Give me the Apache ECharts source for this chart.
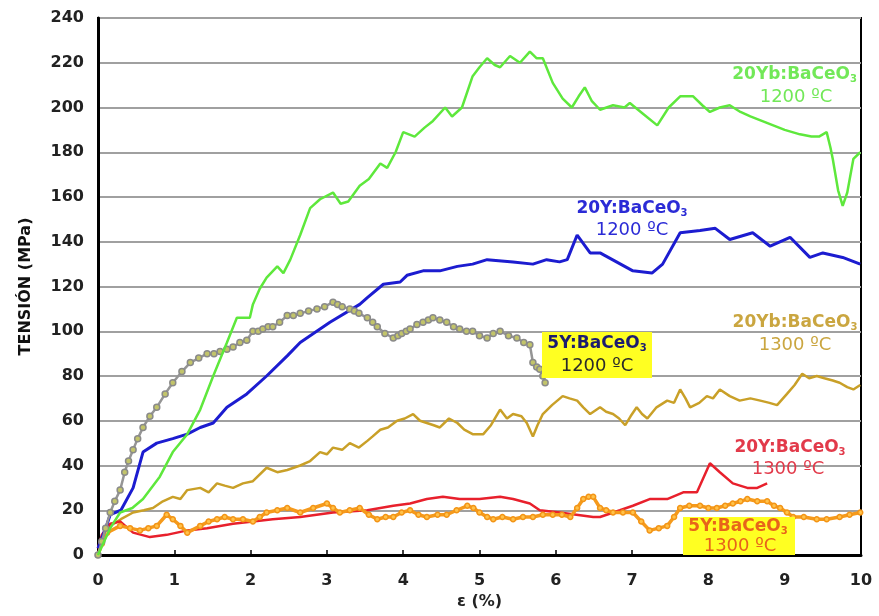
<!DOCTYPE html>
<html><head><meta charset="utf-8">
<script src="https://cdn.jsdelivr.net/npm/echarts@6/dist/echarts.min.js"></script>
<style>html,body{margin:0;padding:0;background:#fff}#c{width:879px;height:616px}</style>
</head><body><div id="c"></div>
<script>
// ε (%) ticks and TENSIÓN (MPa) ticks
const xTicks = [0,1,2,3,4,5,6,7,8,9,10];
const yTicks = [0,20,40,60,80,100,120,140,160,180,200,220,240];

// 20Yb:BaCeO3 1200 ºC
const g20Yb1200 = [[0,0],[0.08,6],[0.16,12],[0.29,19],[0.45,21],[0.59,25],[0.81,35],[0.98,46],[1.17,54],[1.34,65],[1.51,80],[1.69,95],[1.82,106],[1.99,106],[2.03,112],[2.12,119],[2.21,124],[2.35,129],[2.43,126],[2.52,132],[2.65,143],[2.78,155],[2.91,159],[3.08,162],[3.18,157],[3.28,158],[3.43,165],[3.55,168],[3.7,175],[3.79,173],[3.9,180],[4.0,189],[4.15,187],[4.28,191],[4.39,194],[4.55,200],[4.64,196],[4.77,200],[4.91,214],[5.0,218],[5.1,222],[5.2,219],[5.27,218],[5.4,223],[5.53,220],[5.66,225],[5.75,222],[5.83,222],[5.96,211],[6.09,204],[6.21,200],[6.3,205],[6.38,209],[6.47,203],[6.58,199],[6.75,201],[6.9,200],[6.97,202],[7.15,197],[7.33,192],[7.48,200],[7.63,205],[7.8,205],[7.92,201],[8.02,198],[8.15,200],[8.28,201],[8.42,198],[8.55,196],[8.7,194],[8.85,192],[9.0,190],[9.2,188],[9.35,187],[9.45,187],[9.55,189],[9.6,182],[9.63,177],[9.7,163],[9.76,156],[9.82,162],[9.9,177],[9.99,180]];
// 20Y:BaCeO3 1200 ºC
const b20Y1200 = [[0,3],[0.1,12],[0.16,18],[0.3,20],[0.46,30],[0.59,46],[0.77,50],[0.98,52],[1.17,54],[1.34,57],[1.51,59],[1.69,66],[1.95,72],[2.21,80],[2.48,89],[2.65,95],[3.04,104],[3.43,112],[3.53,115],[3.74,121],[3.96,122],[4.05,125],[4.26,127],[4.48,127],[4.71,129],[4.91,130],[5.1,132],[5.44,131],[5.7,130],[5.88,132],[6.05,131],[6.15,132],[6.28,143],[6.45,135],[6.58,135],[7.01,127],[7.26,126],[7.4,130],[7.63,144],[7.89,145],[8.09,146],[8.28,141],[8.58,144],[8.81,138],[9.07,142],[9.33,133],[9.5,135],[9.76,133],[9.99,130]];
// 5Y:BaCeO3 1200 ºC
const s5Y1200 = [[0,0],[0.05,6],[0.1,12],[0.16,19],[0.22,24],[0.29,29],[0.35,37],[0.4,42],[0.46,47],[0.52,52],[0.59,57],[0.68,62],[0.77,66],[0.88,72],[0.98,77],[1.1,82],[1.21,86],[1.32,88],[1.43,90],[1.52,90],[1.6,91],[1.69,92],[1.77,93],[1.86,95],[1.95,96],[2.03,100],[2.1,100],[2.16,101],[2.23,102],[2.29,102],[2.38,104],[2.48,107],[2.56,107],[2.65,108],[2.76,109],[2.87,110],[2.97,111],[3.08,113],[3.14,112],[3.2,111],[3.3,110],[3.36,109],[3.42,108],[3.53,106],[3.6,104],[3.66,102],[3.76,99],[3.87,97],[3.93,98],[3.98,99],[4.04,100],[4.09,101],[4.18,103],[4.26,104],[4.33,105],[4.39,106],[4.48,105],[4.57,104],[4.66,102],[4.74,101],[4.83,100],[4.91,100],[5.0,98],[5.1,97],[5.18,99],[5.27,100],[5.38,98],[5.49,97],[5.58,95],[5.66,94],[5.7,86],[5.75,84],[5.79,83],[5.83,80],[5.86,77]];
// 20Yb:BaCeO3 1300 ºC
const y20Yb1300 = [[0,0],[0.08,8],[0.16,13],[0.3,16],[0.46,19],[0.6,20],[0.72,21],[0.85,24],[0.98,26],[1.08,25],[1.17,29],[1.34,30],[1.45,28],[1.56,32],[1.66,31],[1.77,30],[1.9,32],[2.03,33],[2.21,39],[2.35,37],[2.48,38],[2.65,40],[2.78,42],[2.91,46],[3.0,45],[3.08,48],[3.2,47],[3.3,50],[3.42,48],[3.53,51],[3.6,53],[3.7,56],[3.8,57],[3.92,60],[4.02,61],[4.13,63],[4.22,60],[4.31,59],[4.4,58],[4.48,57],[4.6,61],[4.71,59],[4.8,56],[4.91,54],[5.05,54],[5.15,58],[5.27,65],[5.36,61],[5.44,63],[5.55,62],[5.62,59],[5.7,53],[5.76,58],[5.83,63],[5.95,67],[6.09,71],[6.18,70],[6.28,69],[6.36,66],[6.45,63],[6.58,66],[6.66,64],[6.75,63],[6.83,61],[6.91,58],[6.98,62],[7.06,66],[7.13,63],[7.2,61],[7.32,66],[7.46,69],[7.55,68],[7.63,74],[7.7,70],[7.76,66],[7.88,68],[7.98,71],[8.06,70],[8.15,74],[8.28,71],[8.41,69],[8.55,70],[8.68,69],[8.8,68],[8.9,67],[9.03,72],[9.13,76],[9.23,81],[9.32,79],[9.42,80],[9.52,79],[9.63,78],[9.72,77],[9.82,75],[9.9,74],[9.99,76]];
// 20Y:BaCeO3 1300 ºC
const r20Y1300 = [[0,3],[0.05,9],[0.16,14],[0.29,15],[0.46,10],[0.68,8],[0.9,9],[1.17,11],[1.43,12],[1.77,14],[2.03,15],[2.29,16],[2.65,17],[3.08,19],[3.53,20],[3.87,22],[4.09,23],[4.31,25],[4.52,26],[4.74,25],[5.0,25],[5.27,26],[5.44,25],[5.66,23],[5.79,20],[6.05,19],[6.49,17],[6.58,17],[6.84,20],[7.01,22],[7.23,25],[7.46,25],[7.67,28],[7.85,28],[8.02,41],[8.15,37],[8.32,32],[8.51,30],[8.64,30],[8.77,32]];
// 5Y:BaCeO3 1300 ºC
const o5Y1300 = [[0,0],[0.05,5],[0.12,10],[0.29,13],[0.42,12],[0.55,11],[0.66,12],[0.77,13],[0.9,18],[0.98,16],[1.08,13],[1.17,10],[1.34,13],[1.45,15],[1.56,16],[1.66,17],[1.77,16],[1.9,16],[2.03,15],[2.12,17],[2.21,19],[2.35,20],[2.48,21],[2.65,19],[2.82,21],[3.0,23],[3.08,21],[3.17,19],[3.3,20],[3.43,21],[3.55,18],[3.66,16],[3.77,17],[3.87,17],[3.98,19],[4.09,20],[4.2,18],[4.31,17],[4.45,18],[4.57,18],[4.7,20],[4.84,22],[4.92,21],[5.0,19],[5.1,17],[5.18,16],[5.3,17],[5.44,16],[5.57,17],[5.7,17],[5.83,18],[5.96,18],[6.08,18],[6.19,17],[6.28,21],[6.36,25],[6.43,26],[6.49,26],[6.58,21],[6.66,20],[6.75,19],[6.88,19],[7.01,19],[7.12,15],[7.23,11],[7.35,12],[7.46,13],[7.55,17],[7.63,21],[7.75,22],[7.89,22],[8.0,21],[8.11,21],[8.22,22],[8.32,23],[8.42,24],[8.51,25],[8.64,24],[8.77,24],[8.86,22],[8.94,21],[9.03,19],[9.11,17],[9.25,17],[9.42,16],[9.55,16],[9.72,17],[9.85,18],[9.99,19]];

const FONT = 'DejaVu Sans, sans-serif';
const chart = echarts.init(document.getElementById('c'), null, {renderer:'canvas'});

function lbl(x, y, name, temp, color, opts) {
  opts = opts || {};
  return [{
    type:'text', x: x, y: y,
    style:{ text:'{n|' + name + '}{s|3}', fill: color, align: opts.align || 'center', verticalAlign:'middle',
      rich:{ n:{fontSize:17, fontWeight:'bold', fontFamily:FONT, fill:color},
             s:{fontSize:10, fontWeight:'bold', fontFamily:FONT, fill:color, verticalAlign:'bottom', padding:[9,0,0,0]} } },
    z: 100
  },{
    type:'text', x: opts.tx, y: opts.ty,
    style:{ text: temp, fill: opts.tempColor || color, align:'center', verticalAlign:'middle', fontSize:18, fontFamily:FONT, fontWeight:'normal'},
    z: 100
  }];
}

const graphics = [].concat(
  [{type:'rect', shape:{x:542,y:332,width:110,height:46}, style:{fill:'#ffff22'}, z:90},
   {type:'rect', shape:{x:683,y:517,width:112,height:38}, style:{fill:'#ffff22'}, z:90}],
  lbl(857, 75, '20Yb:BaCeO', '1200 ºC', '#72e858', {align:'right', tx:796, ty:97}),
  lbl(632, 209, '20Y:BaCeO', '1200 ºC', '#2b2bd6', {tx:632, ty:230}),
  lbl(597, 344, '5Y:BaCeO', '1200 ºC', '#1c1c70', {tx:597, ty:366, tempColor:'#2a2a2a'}),
  lbl(795, 323, '20Yb:BaCeO', '1300 ºC', '#caa640', {tx:795, ty:345}),
  lbl(790, 448, '20Y:BaCeO', '1300 ºC', '#e23a4a', {tx:788, ty:469}),
  lbl(738, 527, '5Y:BaCeO', '1300 ºC', '#e8641a', {tx:740, ty:546})
);

chart.setOption({
  animation:false,
  backgroundColor:'#fff',
  grid:{left:98, right:18, top:18, bottom:61, show:true, borderColor:'#000', borderWidth:2, backgroundColor:'transparent'},
  xAxis:{type:'value', min:0, max:10, interval:1,
    name:'ε (%)', nameLocation:'middle', nameGap:38,
    nameTextStyle:{fontSize:16, fontWeight:'bold', fontFamily:FONT, color:'#222'},
    axisLine:{show:true, onZero:false, lineStyle:{color:'#000', width:3}},
    axisTick:{show:true, inside:true, length:5, lineStyle:{color:'#000', width:1.5}},
    axisLabel:{fontSize:16, fontWeight:'bold', fontFamily:FONT, color:'#222', margin:18,
      formatter: v => xTicks.includes(v) ? String(v) : ''},
    splitLine:{show:false}},
  yAxis:{type:'value', min:0, max:240, interval:20,
    name:'TENSIÓN (MPa)', nameLocation:'middle', nameGap:64, nameRotate:90,
    nameTextStyle:{fontSize:16, fontWeight:'bold', fontFamily:FONT, color:'#111'},
    axisLine:{show:true, lineStyle:{color:'#000', width:3}},
    axisTick:{show:false},
    axisLabel:{fontSize:16, fontWeight:'bold', fontFamily:FONT, color:'#222', margin:14,
      formatter: v => yTicks.includes(v) ? String(v) : ''},
    splitLine:{show:true, lineStyle:{color:'#a0a0a0', width:2}}},
  graphic: graphics,
  series:[
    {type:'line', name:'20Yb 1300', data:y20Yb1300, showSymbol:false, lineStyle:{color:'#c9a028', width:2.5}, z:2},
    {type:'line', name:'20Y 1300', data:r20Y1300, showSymbol:false, lineStyle:{color:'#e8202c', width:2.5}, z:3},
    {type:'line', name:'5Y 1300', data:o5Y1300, showSymbol:true, showAllSymbol:true, symbol:'circle', symbolSize:5,
      itemStyle:{color:'#ffc24a', borderColor:'#f39416', borderWidth:1.5}, lineStyle:{color:'#f59a1c', width:3.5}, z:4},
    {type:'line', name:'20Y 1200', data:b20Y1200, showSymbol:false, lineStyle:{color:'#1c1cd0', width:3}, z:5},
    {type:'line', name:'5Y 1200', data:s5Y1200, showSymbol:true, showAllSymbol:true, symbol:'circle', symbolSize:6,
      itemStyle:{color:'#c2c46a', borderColor:'#8a8a8a', borderWidth:1.5}, lineStyle:{color:'#959595', width:2.5}, z:6},
    {type:'line', name:'20Yb 1200', data:g20Yb1200, showSymbol:false, lineStyle:{color:'#5ee83c', width:2.5}, z:7}
  ]
});
</script></body></html>
